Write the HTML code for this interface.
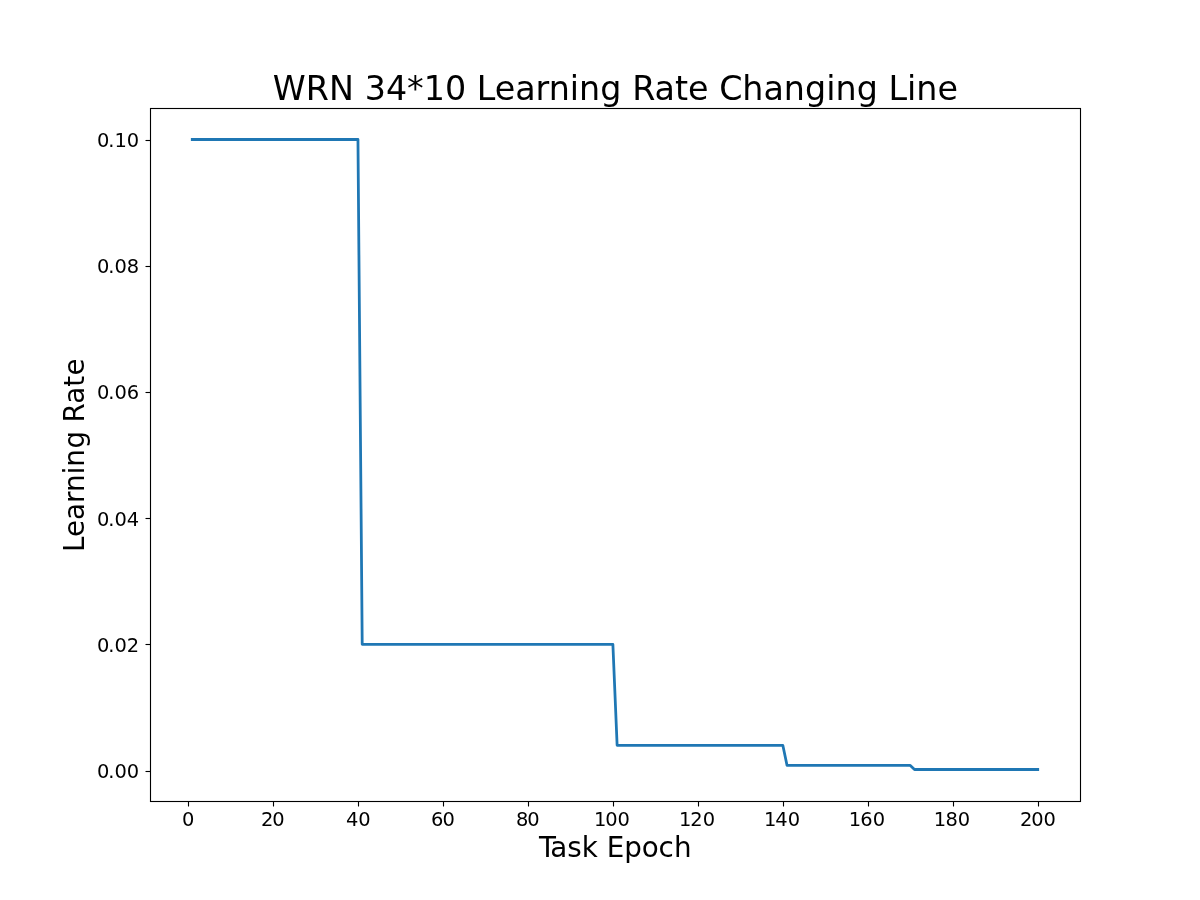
<!DOCTYPE html>
<html lang="en">
<head>
<meta charset="utf-8">
<title>WRN 34*10 Learning Rate Changing Line</title>
<style>
html,body{margin:0;padding:0;background:#fff;}
body{width:1200px;height:900px;overflow:hidden;}
svg{display:block;}
text{font-family:"DejaVu Sans","Liberation Sans",sans-serif;fill:#000;white-space:pre;}
.tk{font-size:19.444px;}
.lb{font-size:27.778px;}
.tt{font-size:33.333px;}
</style>
</head>
<body>
<svg width="1200" height="900" viewBox="0 0 1200 900">
<rect x="0" y="0" width="1200" height="900" fill="#ffffff"/>
<path d="M192.27 139.50 L357.96 139.50 L362.21 644.31 L612.88 644.31 L617.12 745.27 L782.82 745.27 L787.06 765.46 L910.27 765.46 L914.52 769.50 L1037.73 769.50" fill="none" stroke="#1f77b4" stroke-width="2.778" stroke-linecap="square" stroke-linejoin="round"/>
<g stroke="#000" stroke-width="1.1111" fill="none">
<rect x="150.5" y="108.5" width="930" height="693"/>
<line x1="188.5" y1="801.5" x2="188.5" y2="806.5"/>
<line x1="273.5" y1="801.5" x2="273.5" y2="806.5"/>
<line x1="358.5" y1="801.5" x2="358.5" y2="806.5"/>
<line x1="443.5" y1="801.5" x2="443.5" y2="806.5"/>
<line x1="528.5" y1="801.5" x2="528.5" y2="806.5"/>
<line x1="613.5" y1="801.5" x2="613.5" y2="806.5"/>
<line x1="698.5" y1="801.5" x2="698.5" y2="806.5"/>
<line x1="783.5" y1="801.5" x2="783.5" y2="806.5"/>
<line x1="868.5" y1="801.5" x2="868.5" y2="806.5"/>
<line x1="953.5" y1="801.5" x2="953.5" y2="806.5"/>
<line x1="1038.5" y1="801.5" x2="1038.5" y2="806.5"/>
<line x1="145.5" y1="771.5" x2="150.5" y2="771.5"/>
<line x1="145.5" y1="644.5" x2="150.5" y2="644.5"/>
<line x1="145.5" y1="518.5" x2="150.5" y2="518.5"/>
<line x1="145.5" y1="392.5" x2="150.5" y2="392.5"/>
<line x1="145.5" y1="266.5" x2="150.5" y2="266.5"/>
<line x1="145.5" y1="140.5" x2="150.5" y2="140.5"/>
</g>
<text class="tk" x="181.96" y="826.00">0</text>
<text class="tk" x="260.88 272.24" y="826.00">20</text>
<text class="tk" x="345.9 358.33" y="826.00">40</text>
<text class="tk" x="430.94 442.55" y="826.00">60</text>
<text class="tk" x="515.91 527.15" y="826.00">80</text>
<text class="tk" x="593.95 605.18 617.41" y="826.00">100</text>
<text class="tk" x="678.92 690.28 702.64" y="826.00">120</text>
<text class="tk" x="763.89 775.37 787.73" y="826.00">140</text>
<text class="tk" x="848.73 860.34 872.7" y="826.00">160</text>
<text class="tk" x="933.7 945.44 957.67" y="826.00">180</text>
<text class="tk" x="1019.92 1031.16 1043.52" y="826.00">200</text>
<text class="tk" x="97 108.23 114.4 126.65" y="778.00">0.00</text>
<text class="tk" x="97 108.23 114.4 126.65" y="652.00">0.02</text>
<text class="tk" x="97 108.23 114.4 126.65" y="526.00">0.04</text>
<text class="tk" x="97 108.23 114.4 126.65" y="399.00">0.06</text>
<text class="tk" x="97 108.23 114.4 126.65" y="273.00">0.08</text>
<text class="tk" x="97 108.23 114.4 126.65" y="147.00">0.10</text>
<text class="lb" x="538.98 550.34 567.23 581.7 597.78 606.72 624.14 641.77 658.38 673.89" y="857.00">Task Epoch</text>
<text class="lb" transform="translate(84.00 454.50) rotate(-90)" x="-97.52 -82.55 -65.58 -48.58 -37.52 -19.8 -12.33 5.92 23.14 31.97 50.66 67.66 79.05" y="0">Learning Rate</text>
<text class="tt" x="272.65 305.73 328.88 353.8 364.77 385.98 406.93 423.73 444.93 466.13 476.73 494.71 515.21 535.38 548.76 569.63 578.88 600.13 621.29 632.13 654.55 674.98 688.05 708.55 719.15 742.29 763.41 783.84 804.96 826.24 835.51 856.63 877.79 888.38 906.95 916.21 937.45" y="100.00">WRN 34*10 Learning Rate Changing Line</text>
</svg>
</body>
</html>
